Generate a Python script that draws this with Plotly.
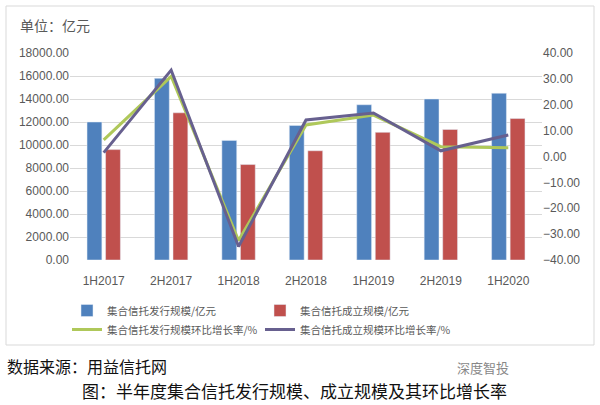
import plotly.graph_objects as go

categories = ["1H2017", "2H2017", "1H2018", "2H2018", "1H2019", "2H2019", "1H2020"]
issue_scale = [12000, 15800, 10400, 11700, 13500, 14000, 14500]
found_scale = [9600, 12800, 8300, 9500, 11100, 11350, 12300]
issue_growth = [6.4, 31.0, -32.5, 12.2, 16.0, 3.8, 3.4]
found_growth = [1.5, 33.4, -34.8, 14.1, 16.8, 2.2, 8.3]
left_ticks = [0, 2000, 4000, 6000, 8000, 10000, 12000, 14000, 16000, 18000]
right_ticks = [-40, -30, -20, -10, 0, 10, 20, 30, 40]

W, H = 600, 405
L, R, T, B = 70, 542, 53, 260

def px(x):
    return (x - L) / (R - L)

def py(y):
    return (B - y) / (B - T)

GRAY = "#595959"
CJK = "Noto Sans CJK SC"
fig = go.Figure()
fig.add_trace(go.Bar(x=categories, y=issue_scale, name="集合信托发行规模/亿元",
                     marker_color="#4F81BD"))
fig.add_trace(go.Bar(x=categories, y=found_scale, name="集合信托成立规模/亿元",
                     marker_color="#C0504D"))
fig.add_trace(go.Scatter(x=categories, y=issue_growth, name="集合信托发行规模环比增长率/%",
                         mode="lines", line=dict(color="#AFC85A", width=3), yaxis="y2"))
fig.add_trace(go.Scatter(x=categories, y=found_growth, name="集合信托成立规模环比增长率/%",
                         mode="lines", line=dict(color="#67608F", width=3), yaxis="y2"))

fig.update_layout(
    width=W, height=H,
    margin=dict(l=L, r=W - R, t=T, b=H - B),
    paper_bgcolor="white", plot_bgcolor="white",
    barmode="group", bargap=0.45, bargroupgap=0.2,
    font=dict(family="Liberation Sans", color=GRAY, size=12),
    xaxis=dict(showgrid=False, showline=False, ticks="", ticklabelstandoff=12,
               tickfont=dict(size=12, color=GRAY)),
    yaxis=dict(range=[0, 18000], tickvals=left_ticks, tickformat=".2f",
               showgrid=True, gridcolor="#D9D9D9", gridwidth=1, zeroline=False,
               tickfont=dict(size=12, color=GRAY), ticks="", ticklen=0),
    yaxis2=dict(range=[-40, 40], tickvals=right_ticks, tickformat=".2f", overlaying="y",
                side="right", showgrid=False, zeroline=False,
                tickfont=dict(size=12, color=GRAY)),
    legend=dict(orientation="h", x=px(67), xanchor="left", y=py(296), yanchor="top",
                entrywidth=148, entrywidthmode="pixels", traceorder="normal",
                font=dict(family=CJK, size=10.5, color=GRAY), tracegroupgap=0,
                itemwidth=30),
    showlegend=True,
)

fig.add_shape(type="rect", xref="paper", yref="paper",
              x0=px(6), x1=px(594), y0=py(345), y1=py(6),
              line=dict(color="#D9D9D9", width=1), fillcolor="rgba(0,0,0,0)", layer="below")

fig.add_annotation(text="单位：亿元", xref="paper", yref="paper", x=px(18), y=py(25),
                   xanchor="left", yanchor="middle", showarrow=False,
                   font=dict(family=CJK, size=14, color=GRAY))
fig.add_annotation(text="数据来源：用益信托网", xref="paper", yref="paper", x=px(5), y=py(366),
                   xanchor="left", yanchor="middle", showarrow=False,
                   font=dict(family=CJK, size=16, color="#111111"))
fig.add_annotation(text="图：半年度集合信托发行规模、成立规模及其环比增长率", xref="paper", yref="paper",
                   x=px(80), y=py(405), xanchor="left", yanchor="bottom", showarrow=False,
                   font=dict(family=CJK, size=17, color="#111111"))
fig.add_annotation(text="深度智投", xref="paper", yref="paper", x=px(455), y=py(379),
                   xanchor="left", yanchor="bottom", showarrow=False,
                   font=dict(family=CJK, size=13, color="#888888"))

fig.write_html("out.html")
